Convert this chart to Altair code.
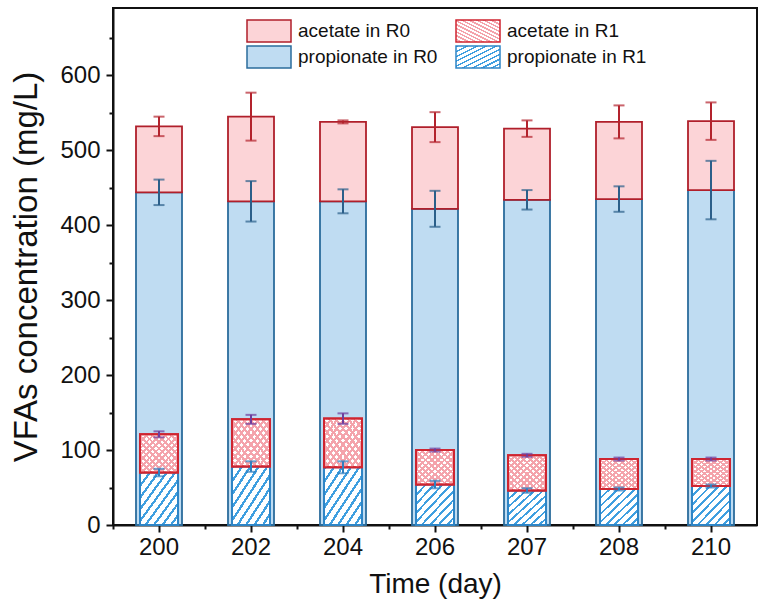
import json
import altair as alt
import pandas as pd

# ---------------- data ----------------
days = ["200", "202", "204", "206", "207", "208", "210"]
prop_r0 = [444, 432, 432, 422, 434, 435, 447]
prop_r0_err = [17, 27, 16, 24, 13, 17, 39]
ace_r0 = [88, 113, 106, 109, 95, 103, 92]
ace_r0_err = [13, 32, 2, 20, 11, 22, 25]
prop_r1 = [70, 78, 77, 54, 46, 48, 52]
prop_r1_err = [5, 7, 8, 5, 3, 2, 2]
ace_r1 = [51, 63, 65, 46, 47, 40, 36]
ace_r1_err = [4, 6, 7, 2, 2, 2, 2]

series = ["acetate in R0", "propionate in R0", "acetate in R1", "propionate in R1"]

rows = []
for i, d in enumerate(days):
    for reactor, p, pe, a, ae in [
        ("R0", prop_r0[i], prop_r0_err[i], ace_r0[i], ace_r0_err[i]),
        ("R1", prop_r1[i], prop_r1_err[i], ace_r1[i], ace_r1_err[i]),
    ]:
        rows.append(dict(day=d, reactor=reactor, series=f"propionate in {reactor}",
                         lo=0, hi=p, elo=p - pe, ehi=p + pe))
        rows.append(dict(day=d, reactor=reactor, series=f"acetate in {reactor}",
                         lo=p, hi=p + a, elo=p + a - ae, ehi=p + a + ae))
df = pd.DataFrame(rows)

FONT = "Liberation Sans"
INK = "#111111"


def stripes(direction, line, bg, n, frac):
    if direction == "/":
        x1, y1, x2, y2 = 0, 0, 1, 1
    else:
        x1, y1, x2, y2 = 1, 0, 0, 1
    stops = []
    for k in range(n):
        a, b, c = k / n, (k + frac) / n, (k + 1) / n
        stops += [
            {"offset": round(a, 4), "color": line},
            {"offset": round(b, 4), "color": line},
            {"offset": round(b, 4), "color": bg},
            {"offset": round(c, 4), "color": bg},
        ]
    return {"gradient": "linear", "x1": x1, "y1": y1, "x2": x2, "y2": y2, "stops": stops}


pink_line = "#f4a3ab"
blue_line = "#3f9fe0"
cross_a = stripes("\\", pink_line, "#ffffff", 12, 0.45)
cross_b = stripes("/", pink_line, "rgba(255,255,255,0)", 12, 0.45)
hatch = stripes("/", blue_line, "#ffffff", 9, 0.32)

fill_scale = alt.Scale(
    domain=series,
    range=["#fcd4d7", "#bfdcf2", {"expr": json.dumps(cross_a)}, {"expr": json.dumps(hatch)}],
)
stroke_scale = alt.Scale(domain=series, range=["#b01f2b", "#2b6c9c", "#cf2530", "#2e85c6"])
err_scale = alt.Scale(domain=series, range=["#b3232d", "#2b5f8a", "#6f3d9c", "#2f7fc0"])

legend = alt.Legend(
    title=None, orient="none", legendX=144, legendY=11, columns=2,
    symbolType="M-2,-1H2V1H-2Z", symbolSize=484, symbolStrokeWidth=1.5,
    labelFont=FONT, labelFontSize=19, labelColor=INK, labelOffset=17,
    columnPadding=15, rowPadding=-5, padding=0,
)

x_scale = alt.Scale(type="band", domain=days, paddingInner=0, paddingOuter=0)
y_scale = alt.Scale(domain=[0, 690], nice=False, zero=True)

x_axis = alt.Axis(
    title="Time (day)", labelAngle=0, labelFont=FONT, titleFont=FONT,
    labelFontSize=24, titleFontSize=28, titleFontWeight="normal",
    labelColor=INK, titleColor=INK, tickSize=7, tickWidth=2, tickColor=INK,
    domainWidth=2, domainColor=INK, labelPadding=3, titlePadding=11, grid=False,
)
y_axis = alt.Axis(
    values=[0, 100, 200, 300, 400, 500, 600], title="VFAs concentration (mg/L)",
    labelFont=FONT, titleFont=FONT, labelFontSize=24, titleFontSize=33,
    titleFontWeight="normal", labelColor=INK, titleColor=INK,
    tickSize=7, tickWidth=2, tickColor=INK, domainWidth=2, domainColor=INK,
    labelPadding=6, titlePadding=16, grid=False,
)

X = alt.X("day:N", scale=x_scale, axis=x_axis, sort=days)

base = alt.Chart(df)

r0_bars = base.transform_filter(alt.datum.reactor == "R0").mark_bar(width=46, strokeWidth=1.8).encode(
    x=X,
    y=alt.Y("hi:Q", scale=y_scale, axis=y_axis),
    y2="lo:Q",
    fill=alt.Fill("series:N", scale=fill_scale, legend=legend),
    stroke=alt.Stroke("series:N", scale=stroke_scale, legend=legend),
)
r1_bars = base.transform_filter(alt.datum.reactor == "R1").mark_bar(width=38, strokeWidth=2).encode(
    x=X,
    y=alt.Y("hi:Q", scale=y_scale, axis=y_axis),
    y2="lo:Q",
    fill=alt.Fill("series:N", scale=fill_scale, legend=legend),
    stroke=alt.Stroke("series:N", scale=stroke_scale, legend=legend),
)
r1_cross = base.transform_filter(alt.datum.series == "acetate in R1").mark_bar(
    width=38, strokeWidth=2, fill=cross_b, stroke="#cf2530"
).encode(
    x=X,
    y=alt.Y("hi:Q", scale=y_scale, axis=y_axis),
    y2="lo:Q",
)


def errors(reactor):
    sub = base.transform_filter(alt.datum.reactor == reactor)
    rule = sub.mark_rule(strokeWidth=2).encode(
        x=X,
        y=alt.Y("elo:Q", scale=y_scale, axis=y_axis),
        y2="ehi:Q",
        color=alt.Color("series:N", scale=err_scale, legend=None),
    )
    caps = sub.transform_fold(["elo", "ehi"], as_=["k", "v"]).mark_tick(size=11, thickness=2).encode(
        x=X,
        y=alt.Y("v:Q", scale=y_scale, axis=y_axis),
        color=alt.Color("series:N", scale=err_scale, legend=None),
    )
    return [rule, caps]


main = alt.layer(r0_bars, *errors("R0"), r1_bars, r1_cross, *errors("R1"))

minor = base.mark_point(opacity=0).encode(
    x=alt.X("day:N", scale=x_scale, sort=days,
            axis=alt.Axis(orient="bottom", title=None, labels=False, domain=False,
                          tickSize=4, tickWidth=2, tickColor=INK, bandPosition=0, grid=False)),
    y=alt.Y("hi:Q", scale=y_scale,
            axis=alt.Axis(orient="left", values=[50, 150, 250, 350, 450, 550, 650], title=None,
                          labels=False, domain=False, tickSize=4, tickWidth=2,
                          tickColor=INK, grid=False)),
)

chart = (
    alt.layer(main, minor)
    .resolve_axis(x="independent", y="independent")
    .properties(
        width=644, height=517,
        autosize=alt.AutoSizeParams(type="none"),
        padding={"left": 113, "top": 8, "right": 2, "bottom": 89},
        background="white",
    )
    .configure_view(stroke=INK, strokeWidth=2)
)

chart.save("out.html", embed_options={"renderer": "svg", "actions": False})
